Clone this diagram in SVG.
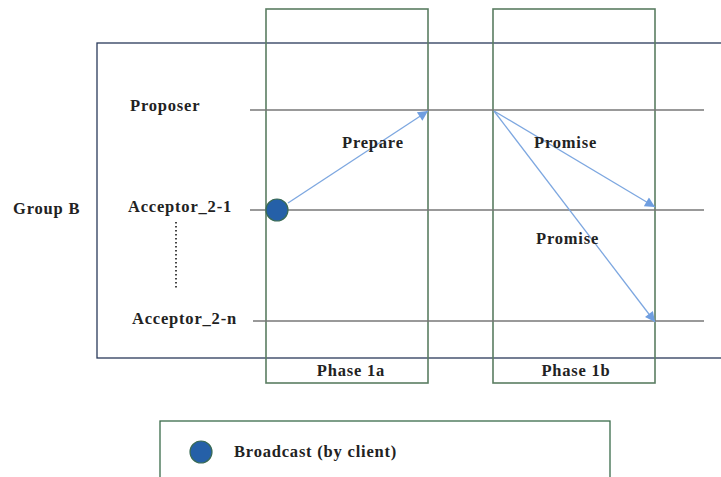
<svg xmlns="http://www.w3.org/2000/svg" width="721" height="477" viewBox="0 0 721 477">
<style>
text{font-family:"Liberation Serif","Times New Roman",serif;font-weight:bold;font-size:16.5px;letter-spacing:0.8px;fill:#222}
.phase{fill:none;stroke:#5a7d62;stroke-width:1.6}
.life{stroke:#777;stroke-width:1.6}
.msg{stroke:#7da7e0;stroke-width:1.3;fill:none;marker-end:url(#ah)}
</style>
<defs>
<marker id="ah" viewBox="0 0 10 10" refX="10" refY="5" markerWidth="12" markerHeight="10" markerUnits="userSpaceOnUse" orient="auto">
<path d="M0,0 L10,5 L0,10 z" fill="#6f9ee0"/>
</marker>
</defs>
<rect width="721" height="477" fill="#fff"/>
<g id="groupB">
<rect x="97" y="43" width="640" height="315" fill="none" stroke="#2a3a5a" stroke-width="1.3"/>
<text x="13" y="214">Group B</text>
</g>
<g id="phase1a">
<rect class="phase" x="266" y="9" width="162" height="374"/>
<text x="351" y="376" text-anchor="middle">Phase 1a</text>
</g>
<g id="phase1b">
<rect class="phase" x="493" y="9" width="162" height="374"/>
<text x="576" y="376" text-anchor="middle">Phase 1b</text>
</g>
<g id="proposer">
<text x="130" y="111">Proposer</text>
<line class="life" x1="250" y1="110" x2="704" y2="110"/>
</g>
<g id="acceptor21">
<text x="128" y="212">Acceptor_2-1</text>
<line class="life" x1="250" y1="210" x2="704" y2="210"/>
</g>
<g id="dots">
<line x1="176" y1="222" x2="176" y2="290" stroke="#444" stroke-width="2" stroke-dasharray="1.5,2.5"/>
</g>
<g id="acceptor2n">
<text x="132" y="324">Acceptor_2-n</text>
<line class="life" x1="253" y1="321" x2="704" y2="321"/>
</g>
<g id="connectors">
<line class="msg" x1="288" y1="203" x2="428" y2="111"/>
<line class="msg" x1="494" y1="111" x2="655" y2="207"/>
<line class="msg" x1="494" y1="111" x2="655" y2="322"/>
<text x="342" y="148">Prepare</text>
<text x="534" y="148">Promise</text>
<text x="536" y="244">Promise</text>
</g>
<g id="broadcast">
<circle cx="277" cy="210" r="11" fill="#2560a8" stroke="#3a6b55" stroke-width="1.2"/>
</g>
<g id="legend">
<rect x="160" y="421" width="450" height="70" fill="none" stroke="#3a6b4a" stroke-width="1.3"/>
<circle cx="201" cy="452" r="11" fill="#2560a8" stroke="#3a6b55" stroke-width="1.2"/>
<text x="234" y="457">Broadcast (by client)</text>
</g>
</svg>
